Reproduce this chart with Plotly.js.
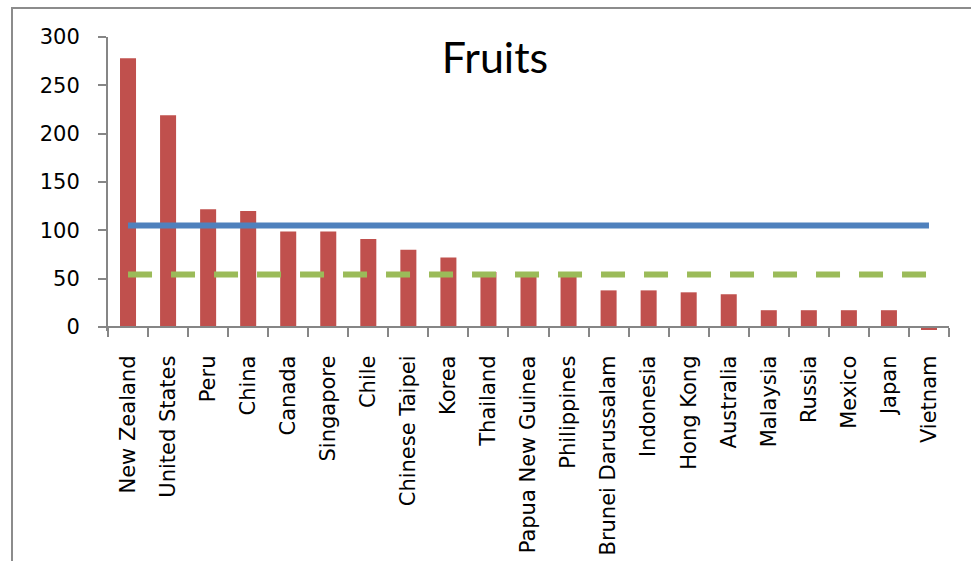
<!DOCTYPE html>
<html>
<head>
<meta charset="utf-8">
<script src="https://cdn.plot.ly/plotly-3.0.1.min.js"></script>
<style>
  html, body { margin: 0; padding: 0; background: #fff; }
  #wrap { position: relative; width: 971px; height: 561px; }
  #chart { position: absolute; left: 0; top: 0; width: 971px; height: 561px; }
  #frame { position: absolute; left: 11px; top: 7px; width: 970px; height: 560px;
           border-left: 2px solid #8c8c8c; border-top: 2px solid #8c8c8c; pointer-events: none; }
</style>
</head>
<body>
<div id="wrap">
  <div id="chart"></div>
  <div id="frame"></div>
</div>
<script>
const countries = ["New Zealand", "United States", "Peru", "China", "Canada", "Singapore", "Chile",
  "Chinese Taipei", "Korea", "Thailand", "Papua New Guinea", "Philippines", "Brunei Darussalam",
  "Indonesia", "Hong Kong", "Australia", "Malaysia", "Russia", "Mexico", "Japan", "Vietnam"];
const fruitValues = [278, 219, 122, 120, 99, 99, 91, 80, 72, 57, 55, 56, 38, 38, 36, 34, 17.5, 17.5, 17.5, 17.5, -3];
const averageValue = 105;
const medianValue = 54.5;
const yTicks = [0, 50, 100, 150, 200, 250, 300];

const fontFam = "DejaVu Sans, sans-serif";
const yMin = -4, yMax = 300;

const traces = [
  {
    type: "bar",
    x: countries,
    y: fruitValues,
    marker: { color: "#C0504D" },
    hoverinfo: "x+y"
  },
  {
    type: "scatter",
    mode: "lines",
    x: [countries[0], countries[countries.length - 1]],
    y: [averageValue, averageValue],
    line: { color: "#4F81BD", width: 6 },
    cliponaxis: false
  },
  {
    type: "scatter",
    mode: "lines",
    x: [countries[0], countries[countries.length - 1]],
    y: [medianValue, medianValue],
    line: { color: "#9BBB59", width: 6, dash: "24px,19px" },
    cliponaxis: false
  }
];

const layout = {
  width: 971,
  height: 561,
  margin: { l: 108, r: 22, t: 37, b: 230 },
  paper_bgcolor: "rgba(0,0,0,0)",
  plot_bgcolor: "rgba(0,0,0,0)",
  showlegend: false,
  bargap: 0.6,
  title: {
    text: "Fruits",
    font: { family: "Lato, sans-serif", size: 43, color: "#000" },
    x: 495 / 971,
    xanchor: "center",
    xref: "container",
    y: 1 - 43 / 561,
    yref: "container",
    yanchor: "top"
  },
  xaxis: {
    type: "category",
    anchor: "free",
    position: (0 - yMin) / (yMax - yMin),
    showline: true,
    linecolor: "#868686",
    linewidth: 2,
    ticks: "outside",
    tickson: "boundaries",
    ticklen: 9,
    tickwidth: 2,
    tickcolor: "#868686",
    tickangle: -90,
    ticklabelstandoff: 19,
    tickfont: { family: fontFam, size: 21, color: "#000" },
    showgrid: false,
    zeroline: false
  },
  yaxis: {
    range: [yMin, yMax],
    tickvals: yTicks,
    showline: true,
    linecolor: "#868686",
    linewidth: 2,
    ticks: "outside",
    ticklen: 8,
    tickwidth: 2,
    tickcolor: "#868686",
    ticklabelstandoff: 14,
    tickfont: { family: fontFam, size: 21, color: "#000" },
    showgrid: false,
    zeroline: false
  }
};

Plotly.newPlot("chart", traces, layout, { displayModeBar: false, staticPlot: true });
</script>
</body>
</html>
